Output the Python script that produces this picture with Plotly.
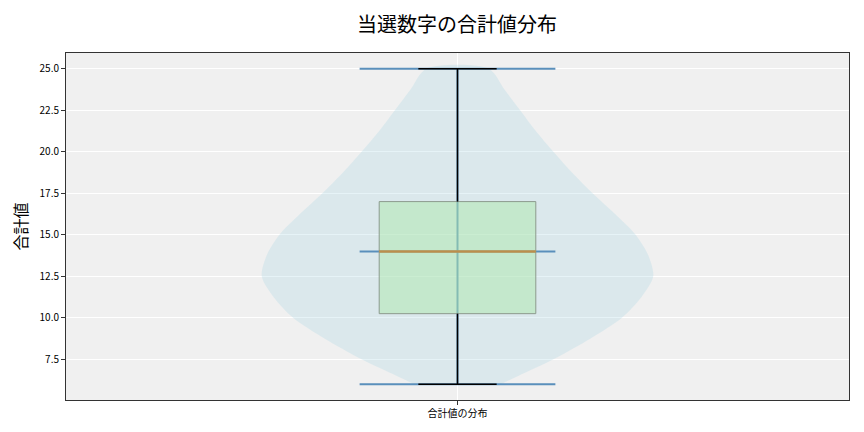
import plotly.graph_objects as go

# summary statistics of the sum of winning numbers
stat_min = 6.0
stat_q1 = 10.25
stat_median = 14.0
stat_q3 = 17.0
stat_max = 25.0

# violin profile (relative density)
violin_y = [6.0, 6.5, 7.5, 8.75, 10.0, 11.25, 12.5, 13.75, 15.0, 16.25,
            17.5, 18.75, 20.0, 21.25, 22.5, 23.75, 25.0]
violin_density = [0.22, 0.31, 0.49, 0.68, 0.84, 0.94, 1.0, 0.975, 0.91, 0.805,
                  0.69, 0.585, 0.49, 0.40, 0.32, 0.24, 0.16]

category = '合計値の分布'
y_ticks = [7.5, 10.0, 12.5, 15.0, 17.5, 20.0, 22.5, 25.0]

pos = 1.0
violin_half = 0.25
box_half = 0.1
cap_half = 0.05
line_half = 0.125

blue = '#5a8fbb'

fig = go.Figure()

# violin body
xs = [pos - violin_half * d for d in violin_density] + \
     [pos + violin_half * d for d in reversed(violin_density)]
ys = violin_y + list(reversed(violin_y))
fig.add_trace(go.Scatter(x=xs, y=ys, fill='toself', mode='lines',
                         line=dict(width=0, shape='spline', smoothing=0.8),
                         fillcolor='rgba(173,216,230,0.3)',
                         hoverinfo='skip'))

# violin bar and min / median / max lines
fig.add_trace(go.Scatter(x=[pos, pos], y=[stat_min, stat_max], mode='lines',
                         line=dict(color=blue, width=2)))
for v in [stat_min, stat_median, stat_max]:
    fig.add_trace(go.Scatter(x=[pos - line_half, pos + line_half], y=[v, v],
                             mode='lines', line=dict(color=blue, width=2)))

# box
fig.add_trace(go.Scatter(
    x=[pos - box_half, pos + box_half, pos + box_half, pos - box_half, pos - box_half],
    y=[stat_q1, stat_q1, stat_q3, stat_q3, stat_q1],
    fill='toself', mode='lines', fillcolor='rgba(174,231,171,0.5)',
    line=dict(color='#8c9a8e', width=1)))

# whiskers and caps
fig.add_trace(go.Scatter(x=[pos, pos], y=[stat_q3, stat_max], mode='lines',
                         line=dict(color='black', width=1.5)))
fig.add_trace(go.Scatter(x=[pos, pos], y=[stat_min, stat_q1], mode='lines',
                         line=dict(color='black', width=1.5)))
for v in [stat_min, stat_max]:
    fig.add_trace(go.Scatter(x=[pos - cap_half, pos + cap_half], y=[v, v],
                             mode='lines', line=dict(color='black', width=1.5)))

# median
fig.add_trace(go.Scatter(x=[pos - box_half, pos + box_half],
                         y=[stat_median, stat_median], mode='lines',
                         line=dict(color='#bb8e4c', width=2.5)))

fig.update_layout(
    width=856, height=424,
    showlegend=False,
    paper_bgcolor='white',
    plot_bgcolor='#f0f0f0',
    font=dict(family='Noto Sans CJK JP', size=10, color='black'),
    title=dict(text='当選数字の合計値分布', x=0.5245, xanchor='center',
               y=0.96, yanchor='middle', font=dict(size=20)),
    margin=dict(l=56, r=15, t=45, b=32),
    xaxis=dict(range=[0.5, 1.5], tickvals=[pos], ticktext=[category],
               showgrid=True, gridcolor='white', gridwidth=1,
               zeroline=False, showline=True, linecolor='#333333',
               mirror=True, ticks='outside', ticklen=4, tickcolor='#333333'),
    yaxis=dict(range=[5.05, 25.95], tickvals=y_ticks,
               ticktext=[f'{t:.1f}' for t in y_ticks],
               showgrid=True, gridcolor='white', gridwidth=1,
               zeroline=False, showline=True, linecolor='#333333',
               mirror=True, ticks='outside', ticklen=4, tickcolor='#333333',
               title=dict(text='合計値', font=dict(size=16), standoff=8)),
)

fig.write_html("out.html")
